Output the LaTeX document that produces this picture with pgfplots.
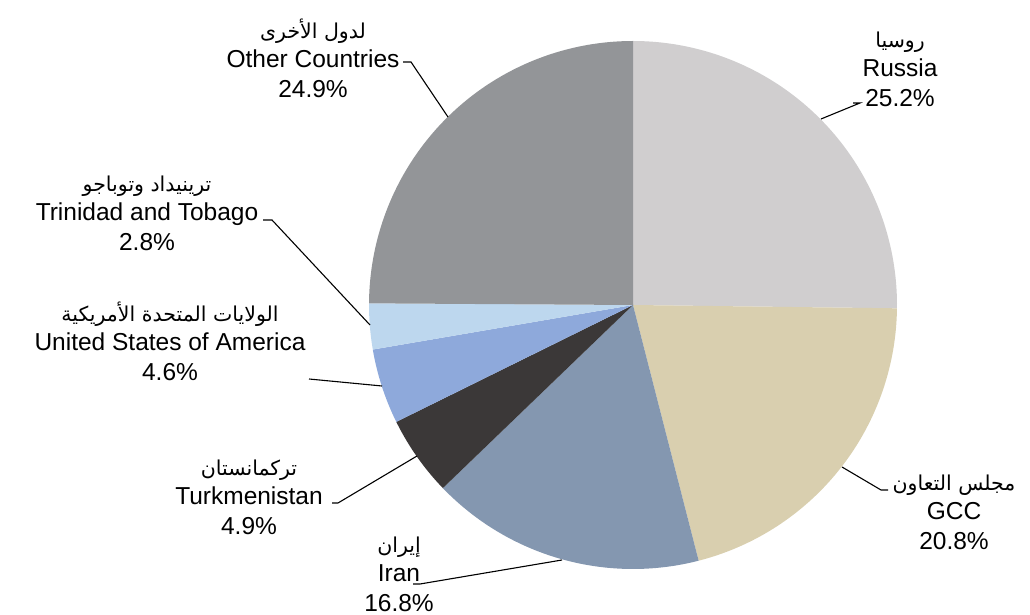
\documentclass[border=0pt]{standalone}
\usepackage{pgfplots}
\usepackage{pgfplotstable}
\pgfplotsset{compat=1.18}
\usepackage{fontspec}
\setmainfont{Liberation Sans}
\newfontfamily\arabicfont[Script=Arabic]{DejaVu Sans}
\TeXXeTstate=1

\definecolor{cRussia}{HTML}{D0CECF}
\definecolor{cGCC}{HTML}{D9CFAF}
\definecolor{cIran}{HTML}{8497B0}
\definecolor{cTurk}{HTML}{3B3838}
\definecolor{cUSA}{HTML}{8EA9DB}
\definecolor{cTT}{HTML}{BDD7EE}
\definecolor{cOther}{HTML}{939598}

\pgfplotstableread[col sep=comma]{
value,color
25.2,cRussia
20.8,cGCC
16.8,cIran
4.9,cTurk
4.6,cUSA
2.8,cTT
24.9,cOther
}\piedata

\newcommand{\lab}[5]{%
  \node[align=center, font=\fontsize{24.5}{29.5}\selectfont, inner sep=0pt] at (axis cs:#1,#2)
  {{\arabicfont\fontsize{20.5}{29.5}\selectfont #3}\\#4\\#5};}

\begin{document}
\begin{tikzpicture}
\begin{axis}[width=1030pt, height=615pt, scale only axis,
  xmin=0, xmax=1030, ymin=0, ymax=615, hide axis, clip=false]
\pgfplotstablegetrowsof{\piedata}
\pgfmathtruncatemacro\N{\pgfplotsretval-1}
\def\cum{0}
\pgfplotsforeachungrouped \i in {0,...,\N}{%
  \pgfplotstablegetelem{\i}{value}\of\piedata \let\v\pgfplotsretval
  \pgfplotstablegetelem{\i}{color}\of\piedata \let\c\pgfplotsretval
  \pgfmathsetmacro\aone{90-3.6*\cum}%
  \pgfmathsetmacro\cum{\cum+\v}%
  \pgfmathsetmacro\atwo{90-3.6*\cum}%
  \edef\temp{\noexpand\addplot[fill=\c, draw=none, domain=\atwo:\aone, samples=90]
    ({633+264*cos(x)},{310+264*sin(x)}) -- (axis cs:633,310) -- cycle;}%
  \temp
}
% leader lines
\draw[line width=1.1pt] (axis cs:853,512) -- (axis cs:860,512) -- (axis cs:821,496);
\draw[line width=1.1pt] (axis cs:888,125) -- (axis cs:881,125) -- (axis cs:842,148);
\draw[line width=1.1pt] (axis cs:413,31) -- (axis cs:420,31) -- (axis cs:562,55);
\draw[line width=1.1pt] (axis cs:332,112) -- (axis cs:338,112) -- (axis cs:417,159);
\draw[line width=1.1pt] (axis cs:309,236) -- (axis cs:382,229);
\draw[line width=1.1pt] (axis cs:263,395) -- (axis cs:272,395) -- (axis cs:370,290);
\draw[line width=1.1pt] (axis cs:403,553) -- (axis cs:411,553) -- (axis cs:448,498);
% labels
\lab{313}{557}{\beginR لدول الأخرى\endR}{Other Countries}{24.9\%}
\lab{900}{546}{\beginR روسيا\endR}{Russia}{25.2\%}
\lab{954}{103}{\beginR مجلس التعاون\endR}{GCC}{20.8\%}
\lab{399}{41}{\beginR إيران\endR}{Iran}{16.8\%}
\lab{249}{118}{\beginR تركمانستان\endR}{Turkmenistan}{4.9\%}
\lab{170}{274}{\beginR الولايات المتحدة الأمريكية\endR}{United States of America}{4.6\%}
\lab{147}{402}{\beginR ترينيداد وتوباجو\endR}{Trinidad and Tobago}{2.8\%}
\end{axis}
\useasboundingbox (current axis.south west) rectangle (current axis.north east);
\end{tikzpicture}
\end{document}
